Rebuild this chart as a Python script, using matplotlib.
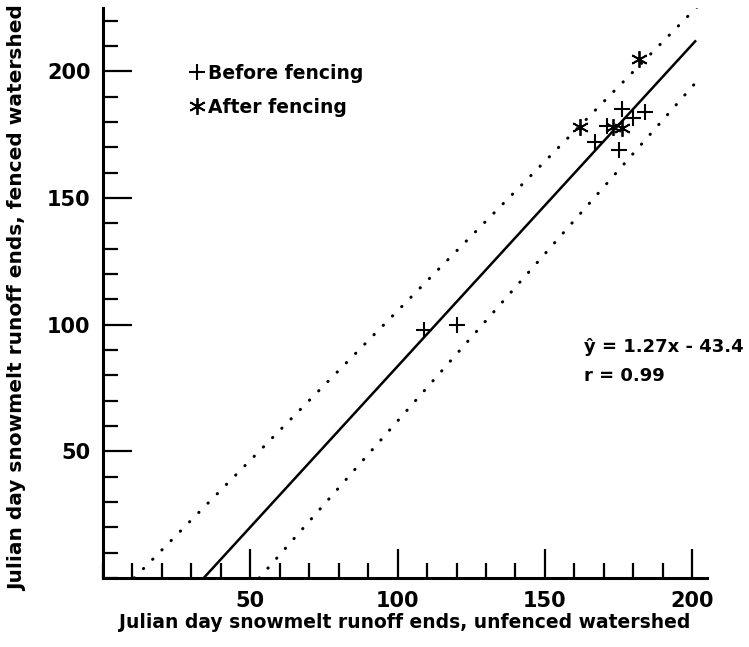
import numpy as np
import matplotlib
matplotlib.use('Agg')
import matplotlib.pyplot as plt
from matplotlib.lines import Line2D
from matplotlib.ticker import MultipleLocator, FixedLocator

# pontos
antes_x = [109, 120, 167, 171, 175, 176, 180, 184]
antes_y = [98, 100, 172, 178.5, 169, 185, 181.5, 184]
depois_x = [162, 173, 176, 182]
depois_y = [178, 178, 177.5, 205]

# reta de regressao e faixas pontilhadas (inclinacao, intercepto, x final)
reg = (1.27, -43.4, 201)
faixa_sup = (1.18, -12.5, 204)
faixa_inf = (1.32, -70.0, 201)

x_ticks = [50, 100, 150, 200]
y_ticks = [50, 100, 150, 200]

plt.rcParams['font.family'] = 'DejaVu Sans'
plt.rcParams['font.weight'] = 'bold'

fig = plt.figure(figsize=(7.49, 6.47), dpi=100)
ax = fig.add_axes([0.1375, 0.1066, 0.8064, 0.881])

def reta(p):
    a, b, xf = p
    xs = np.array([-b / a, xf])
    return xs, a * xs + b

xs, ys = reta(reg)
ax.plot(xs, ys, color='black', lw=1.8)
for p in (faixa_sup, faixa_inf):
    xs, ys = reta(p)
    ax.plot(xs, ys, color='black', lw=2.2, linestyle=(0, (0.1, 4.2)),
            dash_capstyle='round')

ax.plot(antes_x, antes_y, linestyle='none', marker='+', ms=12, mew=1.5,
        color='black')
ax.plot(depois_x, depois_y, linestyle='none', marker=(6, 2, 0), ms=12,
        mew=1.3, color='black')

ax.set_xlim(0, 205)
ax.set_ylim(0, 225)
ax.spines['top'].set_visible(False)
ax.spines['right'].set_visible(False)
for s in ('left', 'bottom'):
    ax.spines[s].set_linewidth(2.2)

ax.xaxis.set_major_locator(FixedLocator(x_ticks))
ax.yaxis.set_major_locator(FixedLocator(y_ticks))
ax.xaxis.set_minor_locator(MultipleLocator(10))
ax.yaxis.set_minor_locator(MultipleLocator(10))
ax.set_xticklabels([str(t) for t in x_ticks])
ax.set_yticklabels([str(t) for t in y_ticks])
ax.tick_params(which='major', direction='in', length=21, width=1.6,
               labelsize=15, pad=9)
ax.tick_params(which='minor', direction='in', length=11, width=1.6)
for lab in ax.get_xticklabels() + ax.get_yticklabels():
    lab.set_fontweight('bold')

fig.text(405 / 749, 1 - 622 / 647,
         'Julian day snowmelt runoff ends, unfenced watershed',
         ha='center', va='center', fontsize=13.5, fontweight='bold')
fig.text(18 / 749, 1 - 298 / 647,
         'Julian day snowmelt runoff ends, fenced watershed',
         ha='center', va='center', rotation=90, fontsize=14.5,
         fontweight='bold')

handles = [Line2D([], [], linestyle='none', marker='+', ms=12, mew=1.5,
                  color='black'),
           Line2D([], [], linestyle='none', marker=(6, 2, 0), ms=12,
                  mew=1.3, color='black')]
ax.legend(handles, ['Before fencing', 'After fencing'], loc='upper left',
          bbox_to_anchor=(0.145, 0.902), frameon=False, handlelength=0.7,
          handletextpad=0.25, labelspacing=0.8, borderpad=0,
          borderaxespad=0, prop={'weight': 'bold', 'size': 13.5})

ax.text(0.797, 0.396, 'ŷ = 1.27x - 43.4', transform=ax.transAxes,
        fontsize=13, fontweight='bold', va='baseline')
ax.text(0.797, 0.345, 'r = 0.99', transform=ax.transAxes,
        fontsize=13, fontweight='bold', va='baseline')

fig.savefig('out.png', dpi=100)
